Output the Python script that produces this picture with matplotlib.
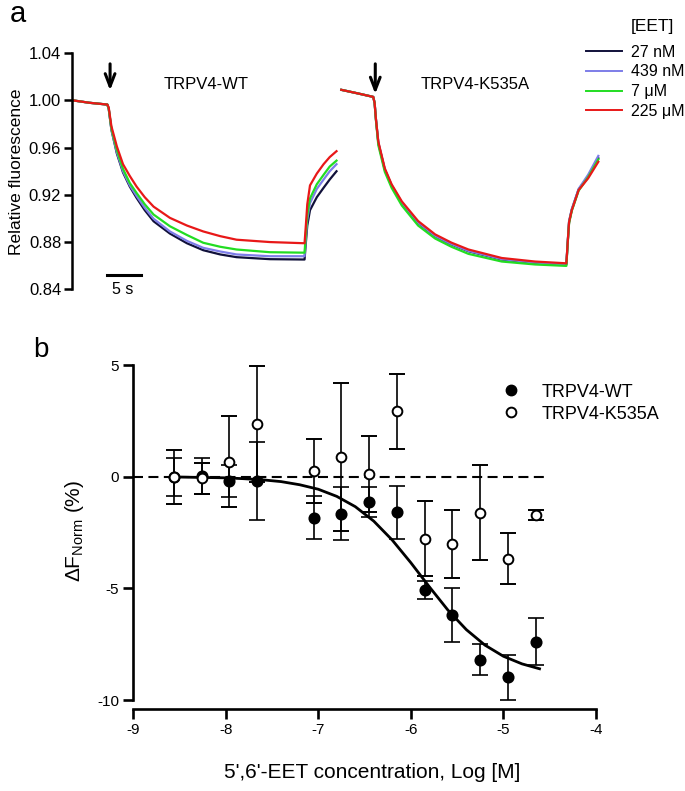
import numpy as np
import matplotlib
matplotlib.use('Agg')
import matplotlib.pyplot as plt
from matplotlib.lines import Line2D

plt.rcParams['font.family'] = ['Liberation Sans', 'DejaVu Sans']
plt.rcParams['mathtext.fontset'] = 'custom'
plt.rcParams['mathtext.rm'] = 'Liberation Sans'
plt.rcParams['axes.unicode_minus'] = False

# ---- panel a: fluorescence traces (time in s) ----
t_wt = [0.2, 2.6, 5.2, 5.4, 5.8, 6.6, 7.5, 8.5, 9.5, 10.7, 12.0, 14.4, 16.9,
        19.3, 21.8, 24.2, 29.1, 34.2, 34.4, 34.6, 35.0, 36.0, 37.0, 37.9, 38.9]
wt_27nM = [1.000, 0.998, 0.9965, 0.993, 0.975, 0.955, 0.939, 0.927, 0.9174, 0.907,
           0.8976, 0.8872, 0.879, 0.8731, 0.8695, 0.8672, 0.8655, 0.8652, 0.880,
           0.894, 0.907, 0.918, 0.926, 0.933, 0.940]
wt_439nM = [1.000, 0.998, 0.9965, 0.993, 0.975, 0.956, 0.940, 0.928, 0.919, 0.909,
            0.8997, 0.889, 0.881, 0.8751, 0.872, 0.8695, 0.868, 0.868, 0.884,
            0.899, 0.913, 0.925, 0.933, 0.940, 0.946]
wt_7uM = [1.000, 0.998, 0.9965, 0.993, 0.976, 0.958, 0.942, 0.930, 0.9216, 0.912,
          0.9033, 0.8934, 0.886, 0.8794, 0.876, 0.8737, 0.8714, 0.871, 0.888,
          0.903, 0.917, 0.929, 0.937, 0.944, 0.949]
wt_225uM = [1.000, 0.998, 0.9965, 0.994, 0.978, 0.961, 0.946, 0.936, 0.927, 0.918,
            0.910, 0.9005, 0.894, 0.889, 0.885, 0.882, 0.880, 0.879, 0.895,
            0.912, 0.928, 0.938, 0.946, 0.952, 0.957]

t_k = [39.6, 42.0, 44.3, 44.5, 44.7, 45.05, 46.0, 47.0, 48.5, 50.9, 53.4, 55.8,
       58.3, 63.2, 68.1, 72.7, 72.9, 73.1, 73.5, 74.5, 75.9, 77.4]
k_27nM = [1.009, 1.006, 1.003, 0.998, 0.984, 0.964, 0.9414, 0.928, 0.9132, 0.8963,
          0.885, 0.878, 0.8722, 0.8652, 0.8624, 0.861, 0.880, 0.897, 0.9075,
          0.9245, 0.9357, 0.951]
k_439nM = [1.009, 1.006, 1.003, 0.998, 0.984, 0.964, 0.9414, 0.928, 0.9135, 0.8966,
           0.8853, 0.8783, 0.8725, 0.8655, 0.8626, 0.861, 0.880, 0.898, 0.908,
           0.925, 0.937, 0.953]
k_7uM = [1.009, 1.006, 1.003, 0.998, 0.983, 0.962, 0.9395, 0.926, 0.911, 0.894,
         0.883, 0.876, 0.870, 0.8635, 0.861, 0.8598, 0.879, 0.896, 0.9065,
         0.9235, 0.935, 0.950]
k_225uM = [1.009, 1.006, 1.003, 0.998, 0.984, 0.965, 0.9425, 0.929, 0.9145, 0.8978,
           0.8865, 0.8795, 0.8737, 0.8665, 0.8635, 0.862, 0.880, 0.897, 0.907,
           0.924, 0.934, 0.948]

conc_labels = ['27 nM', '439 nM', '7 \u03bcM', '225 \u03bcM']
trace_colors = ['#10103a', '#7d7de8', '#22dd22', '#e81818']
wt_traces = [wt_27nM, wt_439nM, wt_7uM, wt_225uM]
k_traces = [k_27nM, k_439nM, k_7uM, k_225uM]

# ---- panel b: concentration response ----
log_conc = [-8.56, -8.26, -7.96, -7.66, -7.05, -6.75, -6.45, -6.15,
            -5.85, -5.55, -5.25, -4.95, -4.65]
wt_mean = [0.0, 0.04, -0.18, -0.18, -1.83, -1.65, -1.12, -1.59,
           -5.06, -6.19, -8.20, -8.99, -7.39]
wt_err = [0.85, 0.8, 0.71, 1.75, 0.95, 1.17, 0.67, 1.18,
          0.4, 1.2, 0.69, 1.0, 1.05]
k535a_mean = [0.0, -0.07, 0.67, 2.35, 0.25, 0.89, 0.12, 2.92,
              -2.77, -3.0, -1.61, -3.67, -1.71]
k535a_err = [1.21, 0.7, 2.03, 2.6, 1.43, 3.32, 1.7, 1.68,
             1.69, 1.52, 2.12, 1.15, 0.23]

fit_x = [-8.56, -8.3, -8.0, -7.8, -7.6, -7.4, -7.2, -7.0, -6.8, -6.6, -6.4,
         -6.2, -6.0, -5.8, -5.6, -5.4, -5.2, -5.0, -4.8, -4.61]
fit_y = [-0.01, -0.03, -0.05, -0.09, -0.14, -0.22, -0.36, -0.56, -0.88, -1.34,
         -1.99, -2.84, -3.85, -4.93, -5.97, -6.85, -7.54, -8.04, -8.38, -8.6]

fig = plt.figure(figsize=(6.85, 7.91), dpi=100)

# panel a
ax_a = fig.add_axes([0.1051, 0.6343, 0.8307, 0.2984])
for vals, c in zip(wt_traces, trace_colors):
    ax_a.plot(t_wt, vals, color=c, lw=1.6)
for vals, c in zip(k_traces, trace_colors):
    ax_a.plot(t_k, vals, color=c, lw=1.6)
ax_a.set_xlim(0, 83.68)
ax_a.set_ylim(0.84, 1.04)
for s in ['top', 'right', 'bottom']:
    ax_a.spines[s].set_visible(False)
ax_a.spines['left'].set_linewidth(1.8)
ax_a.set_xticks([])
ax_a.set_yticks([0.84, 0.88, 0.92, 0.96, 1.00, 1.04])
ax_a.set_yticklabels(['0.84', '0.88', '0.92', '0.96', '1.00', '1.04'])
ax_a.tick_params(axis='y', width=1.8, length=5.8, labelsize=12, pad=2)
ax_a.set_ylabel('Relative fluorescence', fontsize=12.5, labelpad=3)

arrow = dict(arrowstyle='->, head_length=0.9, head_width=0.35', lw=2.2, color='black',
             shrinkA=0, shrinkB=0)
ax_a.annotate('', xy=(5.6, 1.0085), xytext=(5.6, 1.031), arrowprops=arrow)
ax_a.annotate('', xy=(44.6, 1.0055), xytext=(44.6, 1.031), arrowprops=arrow)
ax_a.text(19.7, 1.0133, 'TRPV4-WT', fontsize=12, ha='center', va='center')
ax_a.text(59.3, 1.0133, 'TRPV4-K535A', fontsize=12, ha='center', va='center')

# scale bar 5 s
ax_a.plot([5.15, 10.15], [0.8517, 0.8517], color='black', lw=2.2, clip_on=False)
ax_a.text(7.5, 0.8398, '5 s', fontsize=11.5, ha='center', va='center')

handles = [Line2D([], [], color=c, lw=1.4) for c in trace_colors]
ax_a.legend(handles, conc_labels, loc='upper left', bbox_to_anchor=(0.855, 0.9435),
            bbox_transform=fig.transFigure, frameon=False, fontsize=11.5,
            handlelength=2.3, handletextpad=0.56, labelspacing=0.3, borderpad=0,
            borderaxespad=0)
fig.text(0.9207, 0.966, '[EET]', fontsize=12.5, ha='left', va='center')

# panel b
ax_b = fig.add_axes([0.1942, 0.1150, 0.6759, 0.4235])
ax_b.plot([-9, -4.53], [0, 0], color='black', lw=1.5, linestyle=(0, (4.8, 2.6)), zorder=1)
ax_b.plot(fit_x, fit_y, color='black', lw=2.0, zorder=2)
ax_b.errorbar(log_conc, wt_mean, yerr=wt_err, fmt='o', color='black', ms=7.5,
              mfc='black', mec='black', mew=1.2, elinewidth=1.2, capsize=5.5,
              capthick=1.2, zorder=3, label='TRPV4-WT')
ax_b.errorbar(log_conc, k535a_mean, yerr=k535a_err, fmt='o', color='black', ms=7,
              mfc='white', mec='black', mew=1.4, elinewidth=1.2, capsize=5.5,
              capthick=1.2, zorder=4, label='TRPV4-K535A')
ax_b.set_xlim(-9, -4)
ax_b.set_ylim(-10, 5)
for s in ['top', 'right']:
    ax_b.spines[s].set_visible(False)
ax_b.spines['left'].set_linewidth(1.9)
ax_b.spines['bottom'].set_linewidth(1.9)
ax_b.spines['bottom'].set_position(('outward', 6.5))
ax_b.set_xticks([-9, -8, -7, -6, -5, -4])
ax_b.set_yticks([-10, -5, 0, 5])
ax_b.tick_params(axis='both', width=1.9, length=7, labelsize=11, pad=3)

leg_handles = [Line2D([], [], ls='none', marker='o', ms=7.5, mfc='black', mec='black'),
               Line2D([], [], ls='none', marker='o', ms=7, mfc='white', mec='black', mew=1.4)]
ax_b.legend(leg_handles, ['TRPV4-WT', 'TRPV4-K535A'], loc='upper left',
            bbox_to_anchor=(0.733, 0.515), bbox_transform=fig.transFigure,
            frameon=False, fontsize=13, handlelength=1.0, handletextpad=1.2,
            labelspacing=0.28, borderpad=0, borderaxespad=0)

fig.text(75 / 685, 1 - 531 / 791, '\u0394F$_{\\mathregular{Norm}}$ (%)', fontsize=15,
         rotation=90, ha='center', va='center')
fig.text(372 / 685, 1 - 773 / 791, "5',6'-EET concentration, Log [M]", fontsize=15,
         ha='center', va='center')

fig.text(10 / 685, 1 - 22 / 791, 'a', fontsize=21)
fig.text(33 / 685, 1 - 357 / 791, 'b', fontsize=20)

fig.savefig('out.png', dpi=100)
